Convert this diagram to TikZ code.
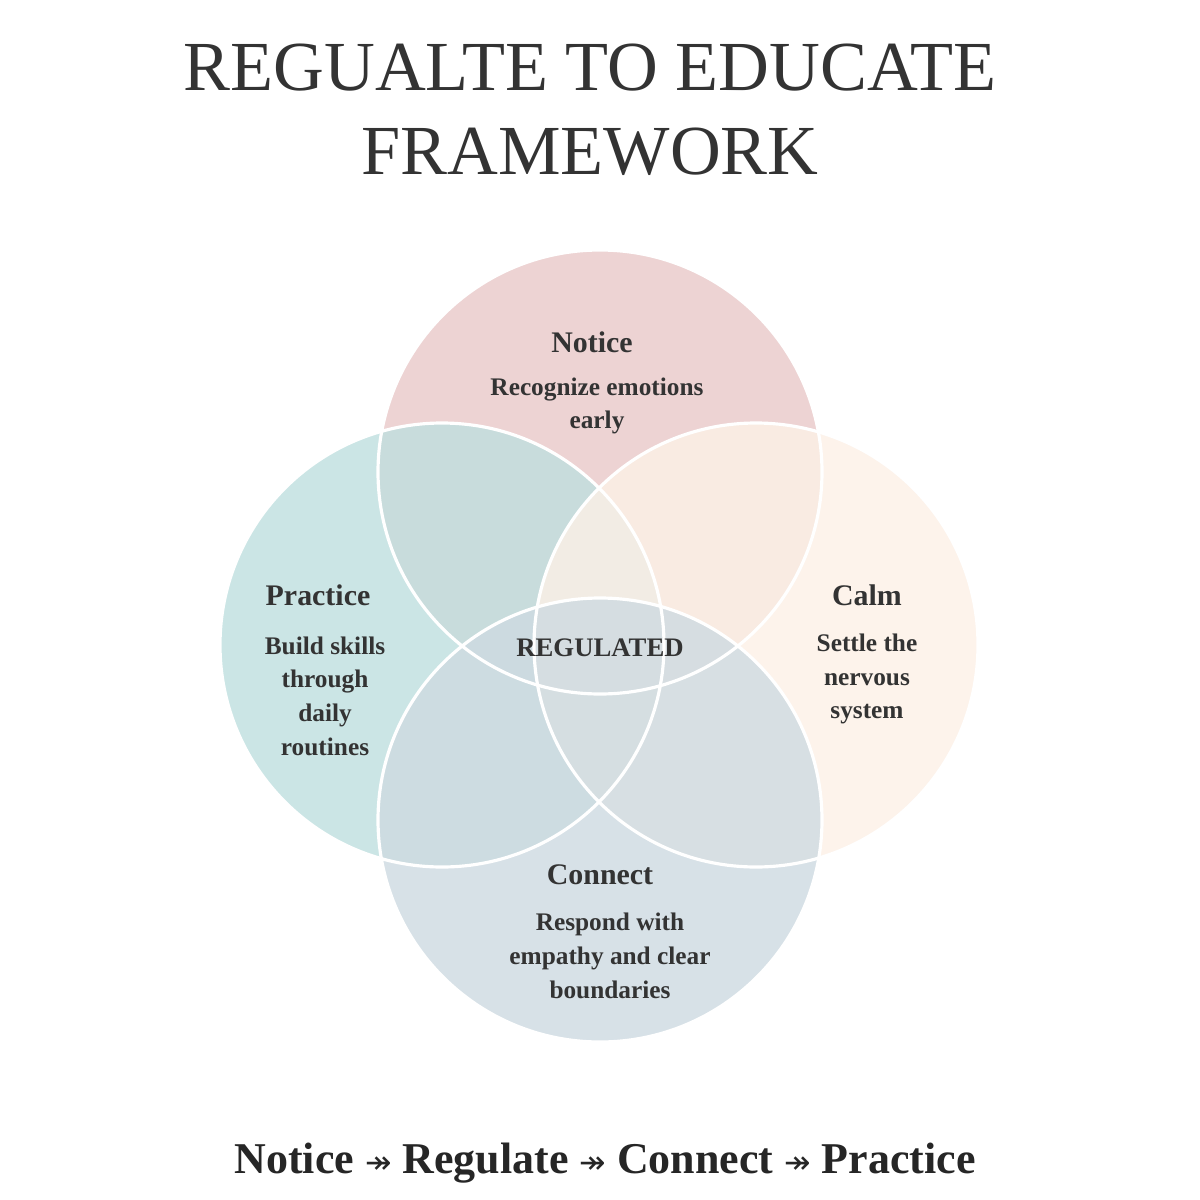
\documentclass[tikz,border=0pt]{standalone}
\usepackage{fontspec}
\setmainfont{Liberation Serif}
\newfontfamily\symf{DejaVu Sans}
\newcommand{\myarr}{{\symf\mdseries\fontsize{9}{10}\selectfont ↠}}
\begin{document}
\begin{tikzpicture}[x=0.01cm,y=-0.01cm,
  circ/.style={fill opacity=0.8},
  ttl/.style={font=\fontsize{8.5}{9}\selectfont\bfseries,text=black!80},
  body/.style={font=\fontsize{7.2}{9.6}\selectfont\bfseries,text=black!80,align=center}]
\fill[white] (0,0) rectangle (1200,1200);
\useasboundingbox (0,0) rectangle (1200,1200);
\definecolor{cpink}{HTML}{E9C8C8}
\definecolor{cteal}{HTML}{BFDFDF}
\definecolor{ccream}{HTML}{FDF1E6}
\definecolor{cblue}{HTML}{CEDAE1}
\fill[cpink,circ] (600,472) circle (222);
\fill[cteal,circ] (442,645) circle (222);
\fill[ccream,circ] (756,645) circle (222);
\fill[cblue,circ] (600,820) circle (222);
\foreach \c in {(600,472),(442,645),(756,645),(600,820)}
  \draw[white,line width=0.9pt] \c circle (222);
\node[font=\fontsize{20}{24}\selectfont,text=black!80,align=center] (title) at (590,110) {REGUALTE TO EDUCATE\\FRAMEWORK};
\node[ttl] (n1) at (592,342) {Notice};
\node[body] (n2) at (597,406) {Recognize emotions\\early};
\node[ttl] (p1) at (318,595) {Practice};
\node[body] (p2) at (325,696) {Build skills\\through\\daily\\routines};
\node[ttl] (c1) at (867,595) {Calm};
\node[body] (c2) at (867,679) {Settle the\\nervous\\system};
\node[ttl] (k1) at (600,875) {Connect};
\node[body] (k2) at (610,956) {Respond with\\empathy and clear\\boundaries};
\node[font=\fontsize{7.6}{9}\selectfont\bfseries,text=black!80] (r) at (600,648) {REGULATED};
\node[font=\fontsize{12.5}{14}\selectfont\bfseries,text=black!85] (bot) at (605,1163) {Notice \myarr{} Regulate \myarr{} Connect \myarr{} Practice};
\end{tikzpicture}
\end{document}
